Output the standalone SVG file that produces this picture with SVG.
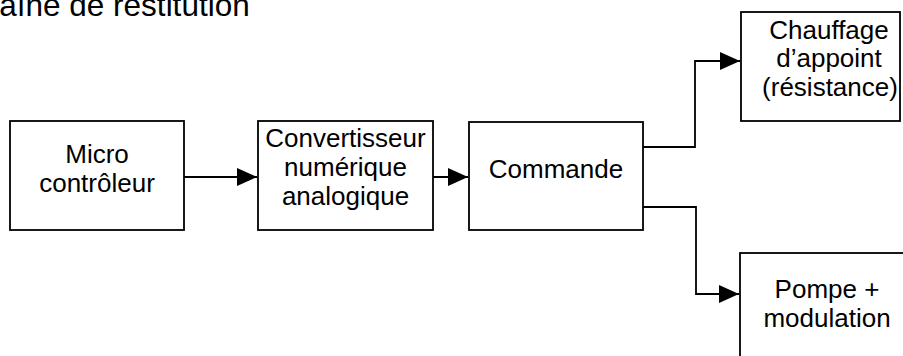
<svg xmlns="http://www.w3.org/2000/svg" width="903" height="356" viewBox="0 0 903 356">
  <style>
    .box { fill: #fff; stroke: #000; stroke-width: 1.8; }
    .lbl { font-family: "Liberation Sans", Arial, sans-serif; font-size: 26px; fill: #000; text-anchor: middle; }
    .title { font-family: "Liberation Sans", Arial, sans-serif; font-size: 31.5px; fill: #000; }
    .wire { fill: none; stroke: #000; stroke-width: 1.8; }
  </style>
  <defs>
    <marker id="arrow" markerUnits="userSpaceOnUse" markerWidth="21" markerHeight="19" refX="20" refY="9" orient="auto">
      <path d="M0,0 L20,9 L0,18 Z" fill="#000"/>
    </marker>
  </defs>
  <rect width="903" height="356" fill="#fff"/>

  <!-- heading, running off the left edge -->
  <text class="title" x="-41" y="16">Chaîne de restitution</text>

  <g id="micro">
    <rect class="box" x="10" y="121" width="174" height="109"/>
    <text class="lbl" x="97" y="163">Micro</text>
    <text class="lbl" x="97" y="192">contrôleur</text>
  </g>

  <g id="cna">
    <rect class="box" x="258" y="121" width="175" height="109"/>
    <text class="lbl" x="345.5" y="147">Convertisseur</text>
    <text class="lbl" x="345.5" y="176">numérique</text>
    <text class="lbl" x="345.5" y="205">analogique</text>
  </g>

  <g id="commande">
    <rect class="box" x="469" y="122" width="174" height="108"/>
    <text class="lbl" x="556" y="178">Commande</text>
  </g>

  <g id="chauffage">
    <rect class="box" x="741" y="12" width="159" height="109"/>
    <text class="lbl" x="829" y="38.5">Chauffage</text>
    <text class="lbl" x="829" y="67">d’appoint</text>
    <text class="lbl" x="830" y="96">(résistance)</text>
  </g>

  <g id="pompe">
    <rect class="box" x="740" y="253" width="170" height="130"/>
    <text class="lbl" x="827" y="298">Pompe +</text>
    <text class="lbl" x="827" y="327">modulation</text>
  </g>

  <g id="connectors">
    <path class="wire" d="M184,177 H257" marker-end="url(#arrow)"/>
    <path class="wire" d="M433,177 H468" marker-end="url(#arrow)"/>
    <path class="wire" d="M643,147 H695 V61 H740" marker-end="url(#arrow)"/>
    <path class="wire" d="M643,207 H696 V294 H739" marker-end="url(#arrow)"/>
  </g>
</svg>
